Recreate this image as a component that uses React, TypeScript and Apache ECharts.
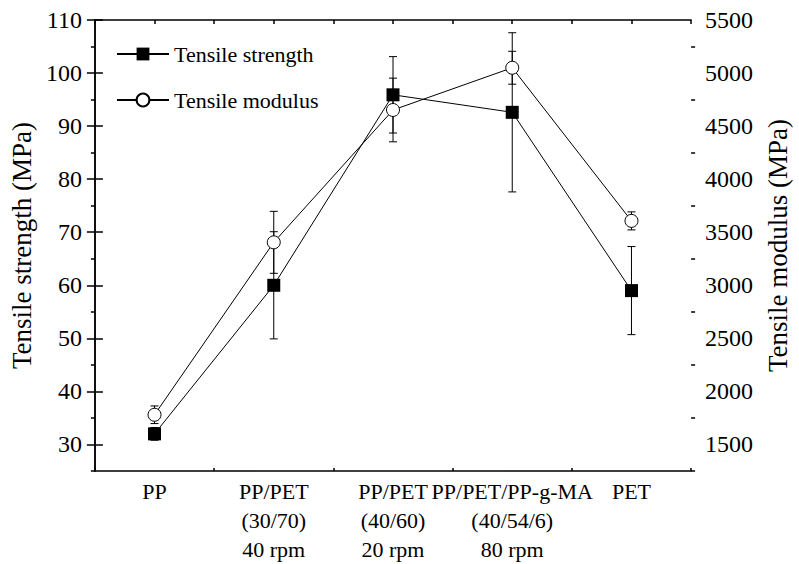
import React, { useEffect, useRef } from "react";
import * as echarts from "echarts";

const categories = [
  "PP",
  "PP/PET\n(30/70)\n40 rpm",
  "PP/PET\n(40/60)\n20 rpm",
  "PP/PET/PP-g-MA\n(40/54/6)\n80 rpm",
  "PET",
];
const strength = [32.0, 60.0, 95.9, 92.6, 59.0];
const strengthErr = [1.2, 10.1, 7.2, 15.0, 8.3];
const modulus = [1780, 3405, 4652, 5050, 3607];
const modulusErr = [83, 292, 300, 155, 85];
const leftTicks = [30, 40, 50, 60, 70, 80, 90, 100, 110];
const leftMinorTicks = [25, 35, 45, 55, 65, 75, 85, 95, 105];
const rightTicks = [1500, 2000, 2500, 3000, 3500, 4000, 4500, 5000, 5500];
const rightMinorTicks = [1250, 1750, 2250, 2750, 3250, 3750, 4250, 4750, 5250];

const FONT = "'Liberation Serif', 'Times New Roman', serif";
const BLACK = "#000";

function errorSeries(name: string, yIdx: number, vals: number[], errs: number[]) {
  return {
    type: "custom",
    name,
    xAxisIndex: 0,
    yAxisIndex: yIdx,
    z: 1,
    silent: true,
    encode: { x: 0, y: [1, 2] },
    data: vals.map((v, i) => [i, v - errs[i], v + errs[i]]),
    renderItem: (_params: any, api: any) => {
      const x = api.value(0);
      const p1 = api.coord([x, api.value(1)]);
      const p2 = api.coord([x, api.value(2)]);
      const w = 4;
      const st = { stroke: BLACK, lineWidth: 1 };
      return {
        type: "group",
        children: [
          { type: "line", shape: { x1: p1[0], y1: p1[1], x2: p2[0], y2: p2[1] }, style: st },
          { type: "line", shape: { x1: p1[0] - w, y1: p1[1], x2: p1[0] + w, y2: p1[1] }, style: st },
          { type: "line", shape: { x1: p2[0] - w, y1: p2[1], x2: p2[0] + w, y2: p2[1] }, style: st },
        ],
      };
    },
  };
}

export default function App() {
  const ref = useRef<HTMLDivElement>(null);
  useEffect(() => {
    if (!ref.current) return;
    const chart = echarts.init(ref.current, null, { renderer: "svg" });
    const axisLine = { show: true, lineStyle: { color: BLACK, width: 1.5 } };
    const tickStyle = { color: BLACK, width: 1.5 };
    const catLabel = { color: BLACK, fontFamily: FONT, fontSize: 22 };
    const tickLabel = { color: BLACK, fontFamily: FONT, fontSize: 24 };
    const nameStyle = { color: BLACK, fontFamily: FONT, fontSize: 27 };
    const plain = (v: number) => String(v);
    chart.setOption({
      animation: false,
      backgroundColor: "#fff",
      textStyle: { fontFamily: FONT },
      grid: { left: 92, right: 101, top: 20, bottom: 93, show: false },
      legend: {
        orient: "vertical",
        left: 111,
        top: 38,
        itemWidth: 52,
        itemHeight: 16,
        itemGap: 24,
        textStyle: { color: BLACK, fontFamily: FONT, fontSize: 22 },
        data: ["Tensile strength", "Tensile modulus"],
      },
      xAxis: [
        {
          type: "category",
          data: categories,
          position: "bottom",
          boundaryGap: true,
          axisLine,
          axisTick: { alignWithLabel: true, inside: true, length: 9, lineStyle: tickStyle },
          axisLabel: { ...catLabel, lineHeight: 29, margin: 6, interval: 0 },
          splitLine: { show: false },
        },
        {
          type: "value",
          position: "bottom",
          min: 0,
          max: 5,
          interval: 1,
          axisLine: { show: false },
          axisTick: { inside: true, length: 3, lineStyle: tickStyle },
          axisLabel: { show: false },
          splitLine: { show: false },
        },
        {
          type: "value",
          position: "top",
          min: 0,
          max: 10,
          interval: 1,
          axisLine,
          axisTick: { inside: true, length: 4, lineStyle: tickStyle },
          axisLabel: { show: false },
          splitLine: { show: false },
        },
      ],
      yAxis: [
        {
          type: "value",
          position: "left",
          min: 25,
          max: 110,
          axisLine,
          axisTick: { customValues: leftTicks, length: 8, lineStyle: tickStyle },
          axisLabel: { ...tickLabel, customValues: leftTicks, margin: 13, formatter: plain },
          splitLine: { show: false },
          name: "Tensile strength (MPa)",
          nameLocation: "middle",
          nameGap: 56,
          nameRotate: 90,
          nameTextStyle: nameStyle,
        },
        {
          type: "value",
          position: "right",
          min: 1250,
          max: 5500,
          axisLine,
          axisTick: { customValues: rightTicks, length: 8, lineStyle: tickStyle },
          axisLabel: { ...tickLabel, customValues: rightTicks, margin: 14, formatter: plain },
          splitLine: { show: false },
          name: "Tensile modulus (MPa)",
          nameLocation: "middle",
          nameGap: 70,
          nameRotate: 90,
          nameTextStyle: nameStyle,
        },
        {
          type: "value",
          position: "left",
          min: 25,
          max: 110,
          axisLine: { show: false },
          axisTick: { customValues: leftMinorTicks, length: 4, lineStyle: tickStyle },
          axisLabel: { show: false },
          splitLine: { show: false },
        },
        {
          type: "value",
          position: "right",
          min: 1250,
          max: 5500,
          axisLine: { show: false },
          axisTick: { customValues: rightMinorTicks, length: 4, lineStyle: tickStyle },
          axisLabel: { show: false },
          splitLine: { show: false },
        },
      ],
      series: [
        errorSeries("strength error", 0, strength, strengthErr),
        errorSeries("modulus error", 1, modulus, modulusErr),
        {
          type: "line",
          name: "Tensile strength",
          xAxisIndex: 0,
          yAxisIndex: 0,
          data: strength,
          symbol: "rect",
          symbolSize: 13,
          showSymbol: true,
          z: 3,
          itemStyle: { color: BLACK },
          lineStyle: { color: BLACK, width: 1 },
        },
        {
          type: "line",
          name: "Tensile modulus",
          xAxisIndex: 0,
          yAxisIndex: 1,
          data: modulus,
          symbol: "circle",
          symbolSize: 13,
          showSymbol: true,
          z: 3,
          itemStyle: { color: "#fff", borderColor: BLACK, borderWidth: 1 },
          lineStyle: { color: BLACK, width: 1 },
        },
      ],
    });
    return () => chart.dispose();
  }, []);
  return (
    <div
      ref={ref}
      style={{ position: "fixed", left: 0, top: 0, width: 799, height: 564, background: "#fff" }}
    />
  );
}
